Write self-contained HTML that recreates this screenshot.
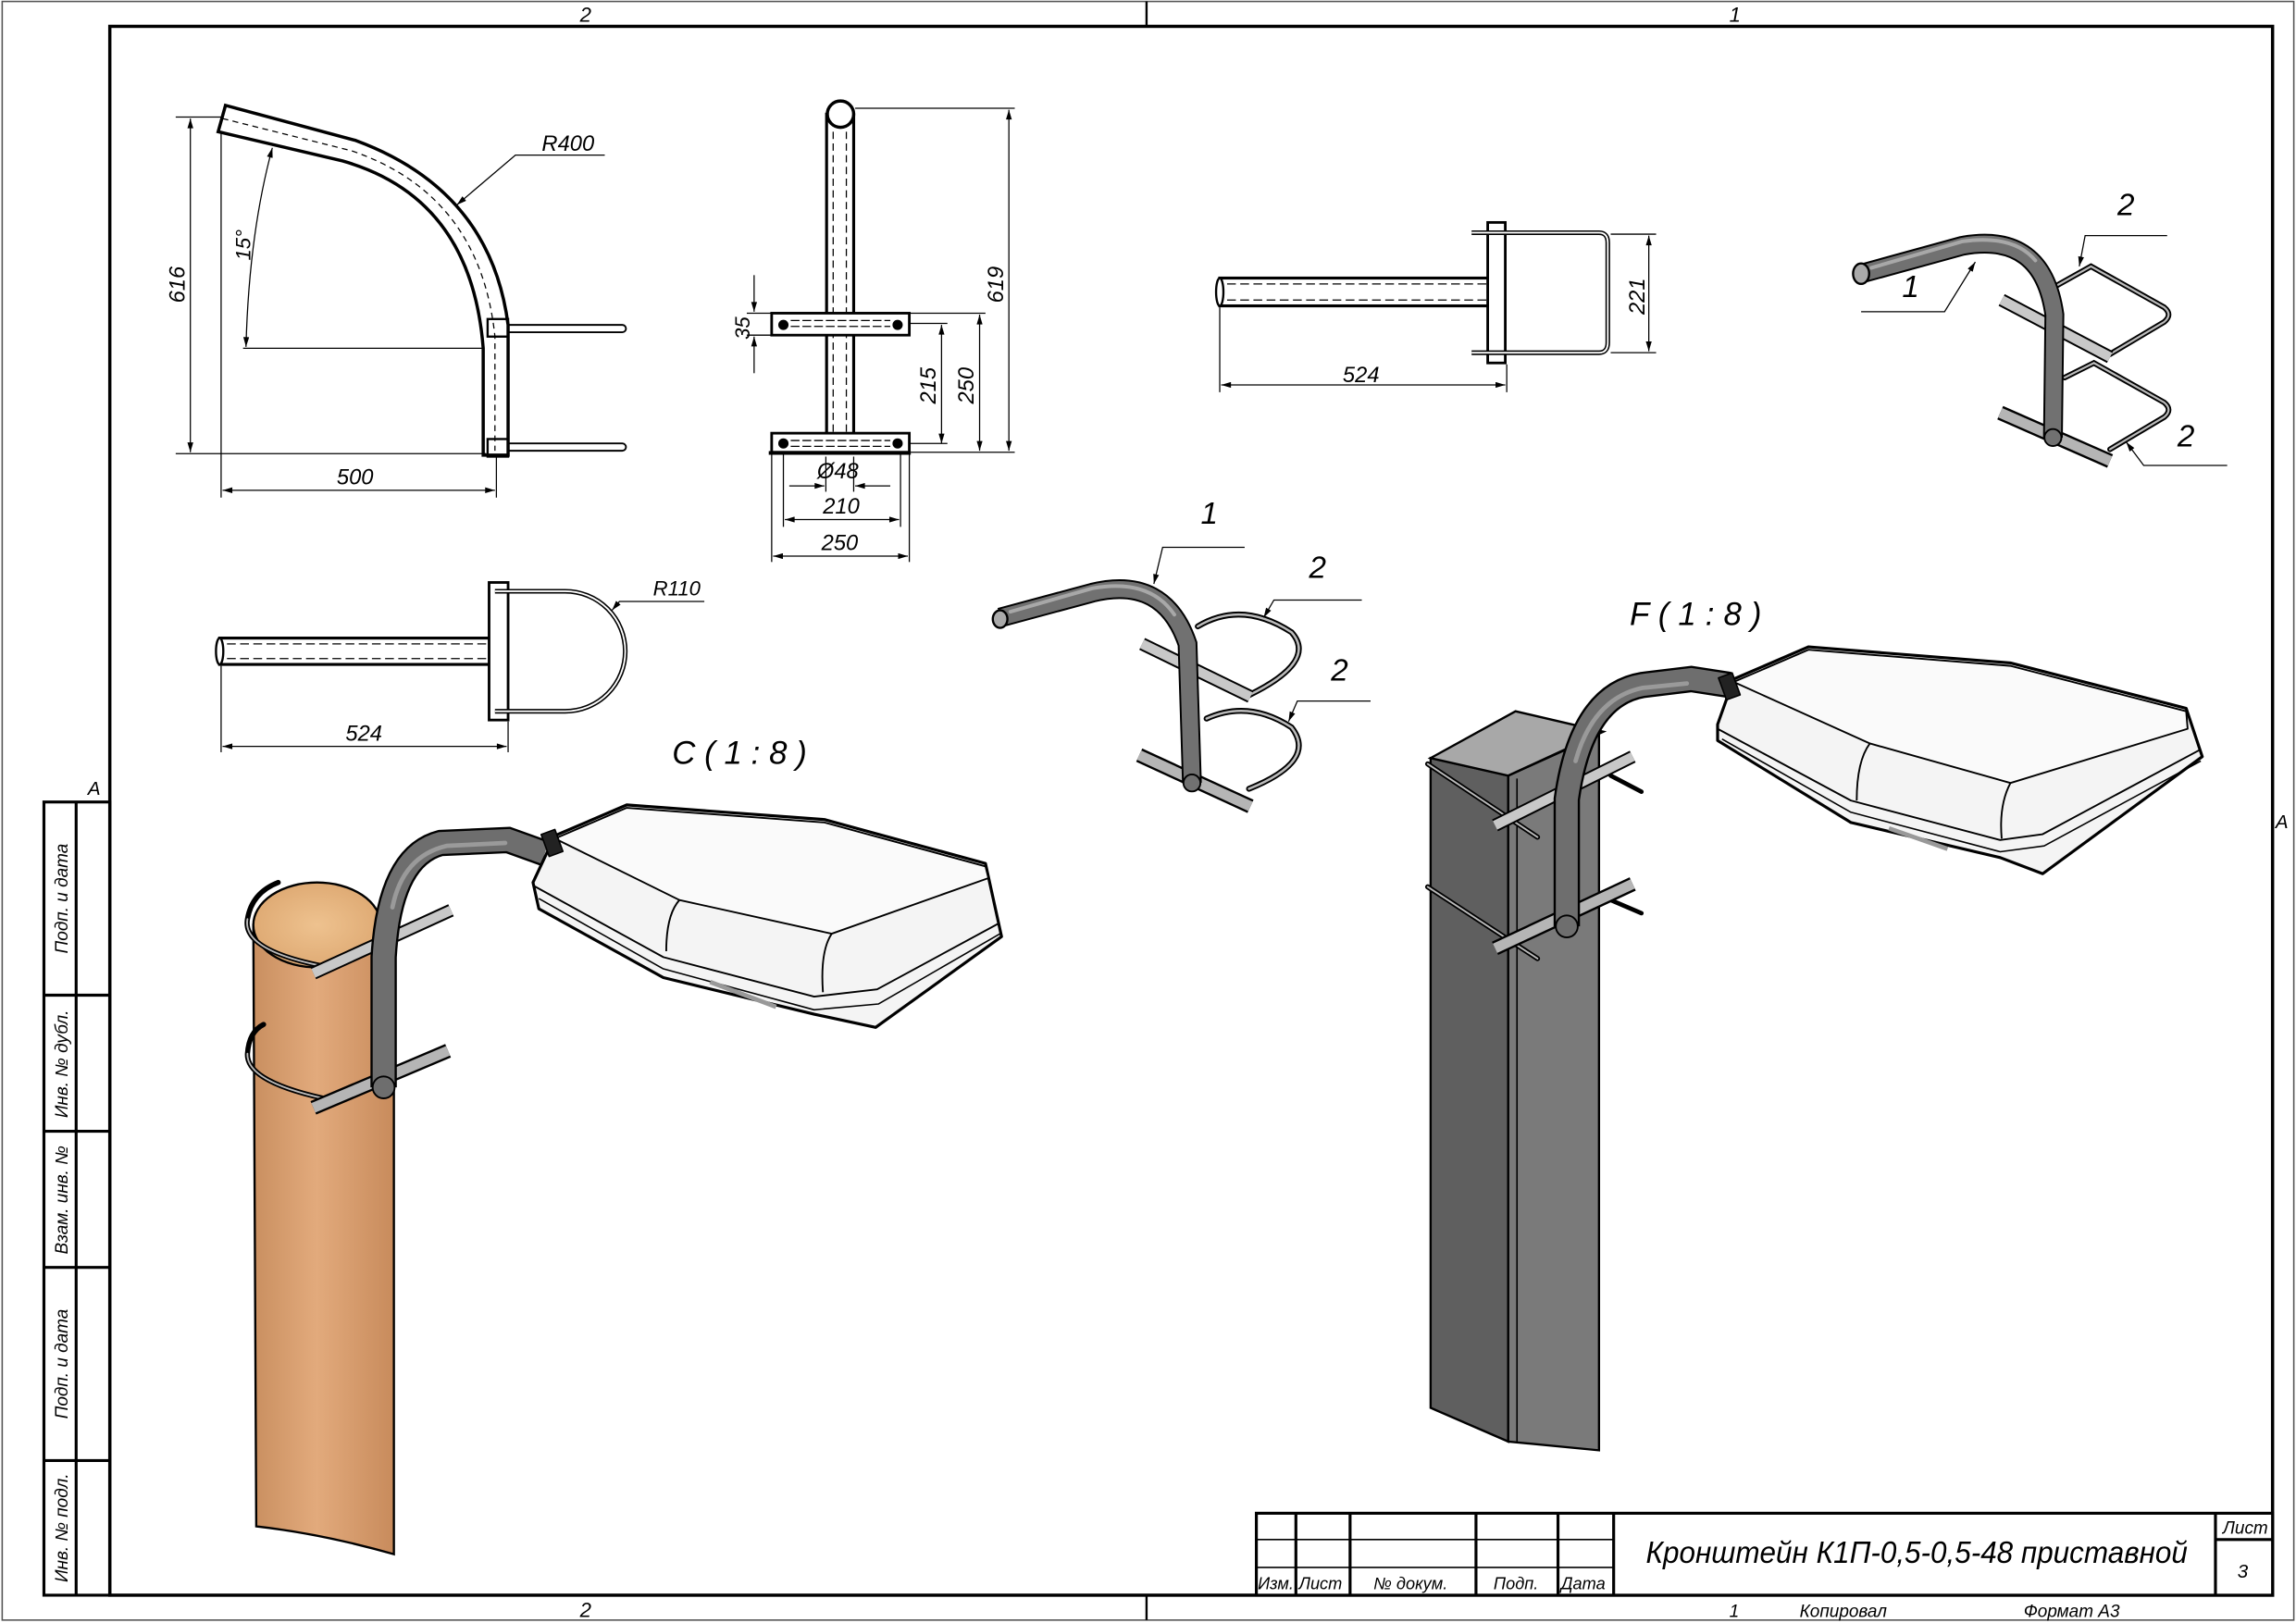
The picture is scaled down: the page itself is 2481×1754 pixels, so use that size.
<!DOCTYPE html>
<html><head><meta charset="utf-8"><style>
html,body{margin:0;padding:0;background:#fff;width:2481px;height:1754px;overflow:hidden}
svg{display:block}
text{font-family:"Liberation Sans","DejaVu Sans",sans-serif;font-style:italic;fill:#000}
</style></head><body>
<svg width="2481" height="1754" viewBox="0 0 1568 1109" preserveAspectRatio="none" xmlns="http://www.w3.org/2000/svg">
<defs>
<marker id="a" viewBox="0 0 10 6" refX="10" refY="3" markerWidth="9" markerHeight="4" orient="auto-start-reverse" markerUnits="userSpaceOnUse"><path d="M0,0L10,3L0,6z" fill="#000"/></marker>
<linearGradient id="wood" x1="0" x2="1" y1="0" y2="0"><stop offset="0" stop-color="#c98f60"/><stop offset="0.45" stop-color="#e2aa7c"/><stop offset="1" stop-color="#c88b5c"/></linearGradient>
<radialGradient id="woodtop" cx="0.5" cy="0.5" r="0.6"><stop offset="0" stop-color="#eec28f"/><stop offset="1" stop-color="#dca66f"/></radialGradient>
</defs>
<rect x="1.5" y="1" width="1565" height="1106" fill="none" stroke="#555" stroke-width="1"/>
<rect x="75" y="18" width="1477" height="1072" fill="none" stroke="#000" stroke-width="2.2"/>
<line x1="783" y1="1" x2="783" y2="18" stroke="#000" stroke-width="1.5"/>
<line x1="783" y1="1090" x2="783" y2="1107" stroke="#000" stroke-width="1.5"/>
<text x="396" y="15" font-size="14">2</text><text x="1181" y="15" font-size="14">1</text>
<text x="396" y="1105" font-size="14">2</text>
<text x="60" y="543" font-size="13">A</text><text x="1554" y="566" font-size="13">A</text>
<g stroke="#000" stroke-width="2" fill="none">
<rect x="30" y="548" width="45" height="542"/>
<line x1="52" y1="548" x2="52" y2="1090"/>
<line x1="30" y1="680" x2="75" y2="680"/><line x1="30" y1="773" x2="75" y2="773"/>
<line x1="30" y1="866" x2="75" y2="866"/><line x1="30" y1="998" x2="75" y2="998"/>
</g>
<g font-size="12">
<text transform="translate(46,614) rotate(-90)" text-anchor="middle">Подп. и дата</text>
<text transform="translate(46,727) rotate(-90)" text-anchor="middle">Инв. № дубл.</text>
<text transform="translate(46,820) rotate(-90)" text-anchor="middle">Взам. инв. №</text>
<text transform="translate(46,932) rotate(-90)" text-anchor="middle">Подп. и дата</text>
<text transform="translate(46,1044) rotate(-90)" text-anchor="middle">Инв. № подл.</text>
</g>
<g stroke="#000" stroke-width="2" fill="none">
<rect x="858" y="1034" width="694" height="56" fill="#fff"/>
<line x1="885" y1="1034" x2="885" y2="1090"/><line x1="922" y1="1034" x2="922" y2="1090"/>
<line x1="1008" y1="1034" x2="1008" y2="1090"/><line x1="1064" y1="1034" x2="1064" y2="1090"/>
<line x1="1102" y1="1034" x2="1102" y2="1090"/><line x1="1513" y1="1034" x2="1513" y2="1090"/>
<line x1="1513" y1="1052" x2="1552" y2="1052"/>
</g>
<g stroke="#000" stroke-width="1"><line x1="858" y1="1052" x2="1102" y2="1052"/><line x1="858" y1="1071" x2="1102" y2="1071"/></g>
<g font-size="11.5"><text x="859" y="1086">Изм.</text><text x="887" y="1086">Лист</text><text x="938" y="1086">№ докум.</text><text x="1020" y="1086">Подп.</text><text x="1066" y="1086">Дата</text></g>
<text x="1124" y="1068" font-size="21" textLength="370" lengthAdjust="spacingAndGlyphs">Кронштейн К1П-0,5-0,5-48 приставной</text>
<text x="1518" y="1048" font-size="12">Лист</text><text x="1528" y="1078" font-size="13">3</text>
<g font-size="12"><text x="1181" y="1105">1</text><text x="1229" y="1105">Копировал</text><text x="1382" y="1105">Формат А3</text></g>

<!-- VIEW 1 side -->
<g fill="none" stroke="#000">
<path d="M154,72 L243,96 Q335,130 347,222 L347,311 L330,311 L330,238 Q322,135 234,110 L149,90 Z" stroke-width="2.2" fill="#fff"/>
<path d="M152,81 L240,103 Q328,133 338,230 L338,308" stroke-width="0.8" stroke-dasharray="4 3"/>
<rect x="333" y="218" width="14" height="12" stroke-width="1.5"/><rect x="333" y="300" width="14" height="12" stroke-width="1.5"/>
<path d="M347,222 H425 a2.5,2.5 0 0 1 0,5 H347" stroke-width="1.2"/>
<path d="M347,303 H425 a2.5,2.5 0 0 1 0,5 H347" stroke-width="1.2"/>
<g stroke-width="0.8">
<line x1="120" y1="80" x2="152" y2="80"/><line x1="120" y1="310" x2="332" y2="310"/>
<line x1="130" y1="81" x2="130" y2="309" marker-start="url(#a)" marker-end="url(#a)"/>
<line x1="151" y1="90" x2="151" y2="340"/><line x1="339" y1="312" x2="339" y2="340"/>
<line x1="152" y1="335" x2="338" y2="335" marker-start="url(#a)" marker-end="url(#a)"/>
<line x1="166" y1="238" x2="330" y2="238"/>
<path d="M186,101 Q170,160 168,237" marker-start="url(#a)" marker-end="url(#a)"/>
<polyline points="312,140 352,106 413,106" marker-start="url(#a)"/>
</g></g>
<text transform="translate(126,207) rotate(-90)" font-size="15">616</text>
<text transform="translate(171,178) rotate(-90)" font-size="14">15°</text>
<text x="230" y="331" font-size="15">500</text>
<text x="370" y="103" font-size="15">R400</text>

<!-- VIEW 2 front -->
<g fill="none" stroke="#000">
<rect x="564.5" y="78" width="18.5" height="231" fill="#fff" stroke-width="2"/>
<circle cx="574" cy="78" r="9" fill="#fff" stroke-width="2.2"/>
<line x1="569" y1="90" x2="569" y2="300" stroke-width="0.8" stroke-dasharray="5 3"/>
<line x1="578" y1="90" x2="578" y2="300" stroke-width="0.8" stroke-dasharray="5 3"/>
<rect x="527" y="214" width="94" height="15" fill="#fff" stroke-width="1.8"/>
<rect x="527" y="296" width="94" height="13" fill="#fff" stroke-width="1.8"/>
<line x1="525" y1="309.5" x2="622" y2="309.5" stroke-width="2.5"/>
<g stroke-width="0.8" stroke-dasharray="6 2"><line x1="540" y1="219" x2="608" y2="219"/><line x1="540" y1="223" x2="608" y2="223"/><line x1="540" y1="301" x2="608" y2="301"/><line x1="540" y1="305" x2="608" y2="305"/></g>
<g stroke-width="0.8">
<line x1="584" y1="74" x2="693" y2="74"/><line x1="622" y1="309" x2="693" y2="309"/>
<line x1="689" y1="75" x2="689" y2="308" marker-start="url(#a)" marker-end="url(#a)"/>
<line x1="621" y1="214" x2="673" y2="214"/><line x1="621" y1="221" x2="647" y2="221"/>
<line x1="669" y1="215" x2="669" y2="308" marker-start="url(#a)" marker-end="url(#a)"/>
<line x1="643" y1="222" x2="643" y2="303" marker-start="url(#a)" marker-end="url(#a)"/>
<line x1="621" y1="303" x2="647" y2="303"/>
<line x1="515" y1="188" x2="515" y2="213" marker-end="url(#a)"/><line x1="515" y1="255" x2="515" y2="230" marker-end="url(#a)"/>
<line x1="510" y1="214" x2="527" y2="214"/><line x1="510" y1="229" x2="527" y2="229"/>
<line x1="527" y1="310" x2="527" y2="384"/><line x1="621" y1="310" x2="621" y2="384"/>
<line x1="535" y1="310" x2="535" y2="360"/><line x1="615" y1="310" x2="615" y2="360"/>
<line x1="528" y1="380" x2="620" y2="380" marker-start="url(#a)" marker-end="url(#a)"/>
<line x1="536" y1="355" x2="614" y2="355" marker-start="url(#a)" marker-end="url(#a)"/>
<line x1="539" y1="332" x2="563" y2="332" marker-end="url(#a)"/><line x1="608" y1="332" x2="584" y2="332" marker-end="url(#a)"/>
<line x1="564" y1="312" x2="564" y2="336"/><line x1="583" y1="312" x2="583" y2="336"/>
</g>
<circle cx="535" cy="222" r="3" fill="#000"/><circle cx="613" cy="222" r="3" fill="#000"/>
<circle cx="535" cy="303" r="3" fill="#000"/><circle cx="613" cy="303" r="3" fill="#000"/>
</g>
<text transform="translate(685,207) rotate(-90)" font-size="15">619</text>
<text transform="translate(512,232) rotate(-90)" font-size="14">35</text>
<text transform="translate(639,276) rotate(-90)" font-size="15">215</text>
<text transform="translate(665,276) rotate(-90)" font-size="15">250</text>
<text x="558" y="327" font-size="15">Ø48</text>
<text x="562" y="351" font-size="15">210</text>
<text x="561" y="376" font-size="15">250</text>

<!-- VIEW 3 top right -->
<g fill="none" stroke="#000">
<rect x="833" y="190" width="188" height="19" fill="#fff" stroke-width="2"/>
<ellipse cx="833" cy="199.5" rx="2.5" ry="9.5" fill="#fff" stroke-width="1.5"/>
<line x1="838" y1="194" x2="1015" y2="194" stroke-width="0.8" stroke-dasharray="6 3"/>
<line x1="838" y1="205" x2="1015" y2="205" stroke-width="0.8" stroke-dasharray="6 3"/>
<ellipse cx="1021" cy="199.5" rx="5" ry="9.5" fill="#fff" stroke-width="1.5"/>
<rect x="1016" y="152" width="12" height="96" fill="#fff" stroke-width="1.8"/>
<path d="M1005,159 H1092 Q1098,159 1098,166 V234 Q1098,241 1092,241 H1005" stroke-width="3.2"/>
<path d="M1005,159 H1092 Q1098,159 1098,166 V234 Q1098,241 1092,241 H1005" stroke-width="1.2" stroke="#fff"/>
<g stroke-width="0.8">
<line x1="1100" y1="160" x2="1131" y2="160"/><line x1="1100" y1="241" x2="1131" y2="241"/>
<line x1="1126" y1="161" x2="1126" y2="240" marker-start="url(#a)" marker-end="url(#a)"/>
<line x1="833" y1="210" x2="833" y2="268"/><line x1="1029" y1="249" x2="1029" y2="268"/>
<line x1="834" y1="263" x2="1028" y2="263" marker-start="url(#a)" marker-end="url(#a)"/>
</g></g>
<text transform="translate(1123,215) rotate(-90)" font-size="15">221</text>
<text x="917" y="261" font-size="15">524</text>

<!-- VIEW 4 top left -->
<g fill="none" stroke="#000">
<rect x="150" y="436" width="192" height="18" fill="#fff" stroke-width="2"/>
<ellipse cx="150" cy="445" rx="2.5" ry="9" fill="#fff" stroke-width="1.5"/>
<line x1="155" y1="440" x2="335" y2="440" stroke-width="0.8" stroke-dasharray="6 3"/>
<line x1="155" y1="450" x2="335" y2="450" stroke-width="0.8" stroke-dasharray="6 3"/>
<ellipse cx="340" cy="445" rx="5" ry="9" fill="#fff" stroke-width="1.5"/>
<rect x="334" y="398" width="13" height="94" fill="#fff" stroke-width="1.8"/>
<path d="M338,404 H386 A41,41 0 0 1 386,486 H338" stroke-width="3.2"/>
<path d="M338,404 H386 A41,41 0 0 1 386,486 H338" stroke-width="1.2" stroke="#fff"/>
<g stroke-width="0.8">
<polyline points="418,417 423,411 481,411" marker-start="url(#a)"/>
<line x1="151" y1="455" x2="151" y2="514"/><line x1="347" y1="493" x2="347" y2="514"/>
<line x1="152" y1="510" x2="346" y2="510" marker-start="url(#a)" marker-end="url(#a)"/>
</g></g>
<text x="446" y="407" font-size="14">R110</text>
<text x="236" y="506" font-size="15">524</text>
<text x="459" y="522" font-size="22" textLength="92" lengthAdjust="spacing">C ( 1 : 8 )</text>
<text x="1113" y="427" font-size="22" textLength="90" lengthAdjust="spacing">F ( 1 : 8 )</text>

<!-- ISO middle -->
<g fill="none" stroke-linecap="round">
<path d="M818,428 Q848,410 882,432 Q900,452 853,475" stroke="#000" stroke-width="4"/>
<path d="M818,428 Q848,410 882,432 Q900,452 853,475" stroke="#bbb" stroke-width="1.6"/>
<path d="M824,491 Q853,478 882,497 Q900,520 853,539" stroke="#000" stroke-width="4"/>
<path d="M824,491 Q853,478 882,497 Q900,520 853,539" stroke="#bbb" stroke-width="1.6"/>
<path d="M780,440 L854,476" stroke="#000" stroke-width="9" stroke-linecap="butt"/>
<path d="M780,440 L854,476" stroke="#c8c8c8" stroke-width="6.5" stroke-linecap="butt"/>
<path d="M778,516 L854,551" stroke="#000" stroke-width="10" stroke-linecap="butt"/>
<path d="M778,516 L854,551" stroke="#b5b5b5" stroke-width="7" stroke-linecap="butt"/>
<path d="M683,422 L746,405 Q795,393 811,440 L814,535" stroke="#000" stroke-width="13.5" stroke-linecap="butt"/>
<path d="M683,422 L746,405 Q795,393 811,440 L814,535" stroke="#717171" stroke-width="11" stroke-linecap="butt"/>
<path d="M690,418 L746,402 Q785,395 802,420" stroke="#a8a8a8" stroke-width="2.5"/>
<ellipse cx="683" cy="423" rx="5" ry="6" fill="#aaa" stroke="#000" stroke-width="1.5"/>
<circle cx="814" cy="535" r="5.8" fill="#717171" stroke="#000" stroke-width="1.2"/>
</g>
<g fill="none" stroke="#000" stroke-width="0.8">
<polyline points="788,399 794,374 850,374" marker-start="url(#a)"/>
<polyline points="863,422 870,410 930,410" marker-start="url(#a)"/>
<polyline points="880,493 886,479 936,479" marker-start="url(#a)"/>
</g>
<text x="820" y="358" font-size="21">1</text><text x="894" y="395" font-size="21">2</text><text x="909" y="465" font-size="21">2</text>

<!-- ISO top right -->
<g fill="none" stroke-linecap="round">
<path d="M1403,196 L1428,182 L1478,210 Q1484,215 1478,220 L1441,242" stroke="#000" stroke-width="3.8"/>
<path d="M1403,196 L1428,182 L1478,210 Q1484,215 1478,220 L1441,242" stroke="#bbb" stroke-width="1.4"/>
<path d="M1410,258 L1430,248 L1478,275 Q1484,280 1478,285 L1441,307" stroke="#000" stroke-width="3.8"/>
<path d="M1410,258 L1430,248 L1478,275 Q1484,280 1478,285 L1441,307" stroke="#bbb" stroke-width="1.4"/>
<path d="M1367,205 L1441,244" stroke="#000" stroke-width="9" stroke-linecap="butt"/>
<path d="M1367,205 L1441,244" stroke="#c8c8c8" stroke-width="6.5" stroke-linecap="butt"/>
<path d="M1366,282 L1441,315" stroke="#000" stroke-width="10" stroke-linecap="butt"/>
<path d="M1366,282 L1441,315" stroke="#b5b5b5" stroke-width="7" stroke-linecap="butt"/>
<path d="M1271,187 L1340,168 Q1395,158 1403,215 L1402,299" stroke="#000" stroke-width="13.5" stroke-linecap="butt"/>
<path d="M1271,187 L1340,168 Q1395,158 1403,215 L1402,299" stroke="#717171" stroke-width="11" stroke-linecap="butt"/>
<path d="M1278,183 L1340,165 Q1375,160 1390,178" stroke="#a8a8a8" stroke-width="2.5"/>
<ellipse cx="1271" cy="187" rx="5.5" ry="7" fill="#aaa" stroke="#000" stroke-width="1.5"/>
<circle cx="1402" cy="299" r="5.8" fill="#717171" stroke="#000" stroke-width="1.2"/>
</g>
<g fill="none" stroke="#000" stroke-width="0.8">
<polyline points="1420,182 1424,161 1480,161" marker-start="url(#a)"/>
<polyline points="1349,179 1328,213 1271,213" marker-start="url(#a)"/>
<polyline points="1452,302 1464,318 1521,318" marker-start="url(#a)"/>
</g>
<text x="1446" y="147" font-size="21">2</text><text x="1299" y="203" font-size="21">1</text><text x="1487" y="305" font-size="21">2</text>

<!-- C scene -->
<path d="M173,632 L175,1043 Q220,1048 269,1062 L269,632 Z" fill="url(#wood)" stroke="#000" stroke-width="1.5"/>
<ellipse cx="216.5" cy="632" rx="43.5" ry="29" fill="url(#woodtop)" stroke="#000" stroke-width="1.5"/>
<g fill="none" stroke-linecap="round">
<path d="M225,661 Q165,650 169,628 Q172,610 190,603" stroke="#000" stroke-width="3.5"/>
<path d="M225,661 Q165,650 169,628" stroke="#bbb" stroke-width="1.2"/>
<path d="M228,752 Q168,740 169,720 Q170,705 180,700" stroke="#000" stroke-width="3.5"/>
<path d="M228,752 Q168,740 169,720" stroke="#bbb" stroke-width="1.2"/>
<path d="M214,665 L308,622" stroke="#000" stroke-width="9" stroke-linecap="butt"/>
<path d="M214,665 L308,622" stroke="#c8c8c8" stroke-width="6.5" stroke-linecap="butt"/>
<path d="M214,757 L306,718" stroke="#000" stroke-width="10" stroke-linecap="butt"/>
<path d="M214,757 L306,718" stroke="#b5b5b5" stroke-width="7" stroke-linecap="butt"/>
<path d="M262,743 L262,654 Q266,585 301,576 L347,574 L372,583" stroke="#000" stroke-width="18" stroke-linecap="butt"/>
<path d="M262,743 L262,654 Q266,585 301,576 L347,574 L372,583" stroke="#6e6e6e" stroke-width="15" stroke-linecap="butt"/>
<path d="M268,620 Q275,585 305,578 L345,576" stroke="#9a9a9a" stroke-width="3"/>
<circle cx="262" cy="743" r="7.5" fill="#6e6e6e" stroke="#000" stroke-width="1.2"/>
</g>
<g stroke="#000" stroke-linejoin="round">
<path d="M379,571 L428,550 L563,560 L673,590 L684,640 L598,702 L556,693 L453,668 L368,621 L364,603 Z" fill="#f4f4f4" stroke-width="2"/>
<path d="M379,573 L428,552 L563,562 L673,592 L675,600 L568,638 L464,615 Z" fill="#fafafa" stroke-width="1.2"/>
<path d="M364,605 L453,654 L556,681 L599,676 L682,631" fill="none" stroke-width="1.2"/>
<path d="M368,614 L453,662 L556,690 L600,686 L683,638" fill="none" stroke-width="1"/>
<path d="M464,615 Q455,625 455,650" fill="none" stroke-width="1.2"/>
<path d="M568,638 Q560,650 562,678" fill="none" stroke-width="1.2"/>
<rect x="372" y="568" width="10" height="16" fill="#222" transform="rotate(-20 377 576)"/>
<path d="M485,671 L530,688" stroke="#999" stroke-width="3"/>
</g>

<!-- F scene -->
<path d="M977,518 L1030,530 L1030,985 L977,962 Z" fill="#5f5f5f" stroke="#000" stroke-width="1.5"/>
<path d="M1030,530 L1092,502 L1092,991 L1030,985 Z" fill="#7a7a7a" stroke="#000" stroke-width="1.5"/>
<line x1="1036" y1="532" x2="1036" y2="986" stroke="#000" stroke-width="1"/>
<path d="M977,518 L1035,486 L1095,500 L1030,530 Z" fill="#a8a8a8" stroke="#000" stroke-width="1.5"/>
<g fill="none" stroke-linecap="round">
<path d="M975,522 L1050,572" stroke="#000" stroke-width="3.5"/><path d="M975,522 L1050,572" stroke="#bbb" stroke-width="1.2"/>
<path d="M975,606 L1050,655" stroke="#000" stroke-width="3.5"/><path d="M975,606 L1050,655" stroke="#bbb" stroke-width="1.2"/>
<path d="M1100,530 L1121,541" stroke="#000" stroke-width="3"/><path d="M1100,615 L1121,624" stroke="#000" stroke-width="3"/>
<path d="M1021,564 L1115,517" stroke="#000" stroke-width="9" stroke-linecap="butt"/>
<path d="M1021,564 L1115,517" stroke="#c8c8c8" stroke-width="6.5" stroke-linecap="butt"/>
<path d="M1021,648 L1115,604" stroke="#000" stroke-width="10" stroke-linecap="butt"/>
<path d="M1021,648 L1115,604" stroke="#b5b5b5" stroke-width="7" stroke-linecap="butt"/>
<path d="M1070,633 L1070,546 Q1080,475 1122,468 L1155,464 L1181,468" stroke="#000" stroke-width="18" stroke-linecap="butt"/>
<path d="M1070,633 L1070,546 Q1080,475 1122,468 L1155,464 L1181,468" stroke="#6e6e6e" stroke-width="15" stroke-linecap="butt"/>
<path d="M1076,520 Q1088,477 1122,470 L1152,467" stroke="#9a9a9a" stroke-width="3"/>
<circle cx="1070" cy="633" r="7.5" fill="#6e6e6e" stroke="#000" stroke-width="1.2"/>
</g>
<g stroke="#000" stroke-linejoin="round">
<path d="M1184,464 L1235,442 L1373,453 L1493,484 L1504,517 L1395,597 L1366,586 L1264,562 L1173,506 L1173,495 Z" fill="#f4f4f4" stroke-width="2"/>
<path d="M1184,466 L1235,444 L1373,455 L1493,486 L1494,498 L1373,535 L1277,508 Z" fill="#fafafa" stroke-width="1.2"/>
<path d="M1173,498 L1264,547 L1366,574 L1395,570 L1503,512" fill="none" stroke-width="1.2"/>
<path d="M1176,505 L1264,555 L1366,582 L1396,578 L1503,520" fill="none" stroke-width="1"/>
<path d="M1277,508 Q1268,520 1268,547" fill="none" stroke-width="1.2"/>
<path d="M1373,535 Q1365,550 1367,573" fill="none" stroke-width="1.2"/>
<rect x="1176" y="461" width="10" height="16" fill="#222" transform="rotate(-20 1181 469)"/>
<path d="M1290,566 L1330,580" stroke="#999" stroke-width="3"/>
</g>
</svg>
</body></html>
